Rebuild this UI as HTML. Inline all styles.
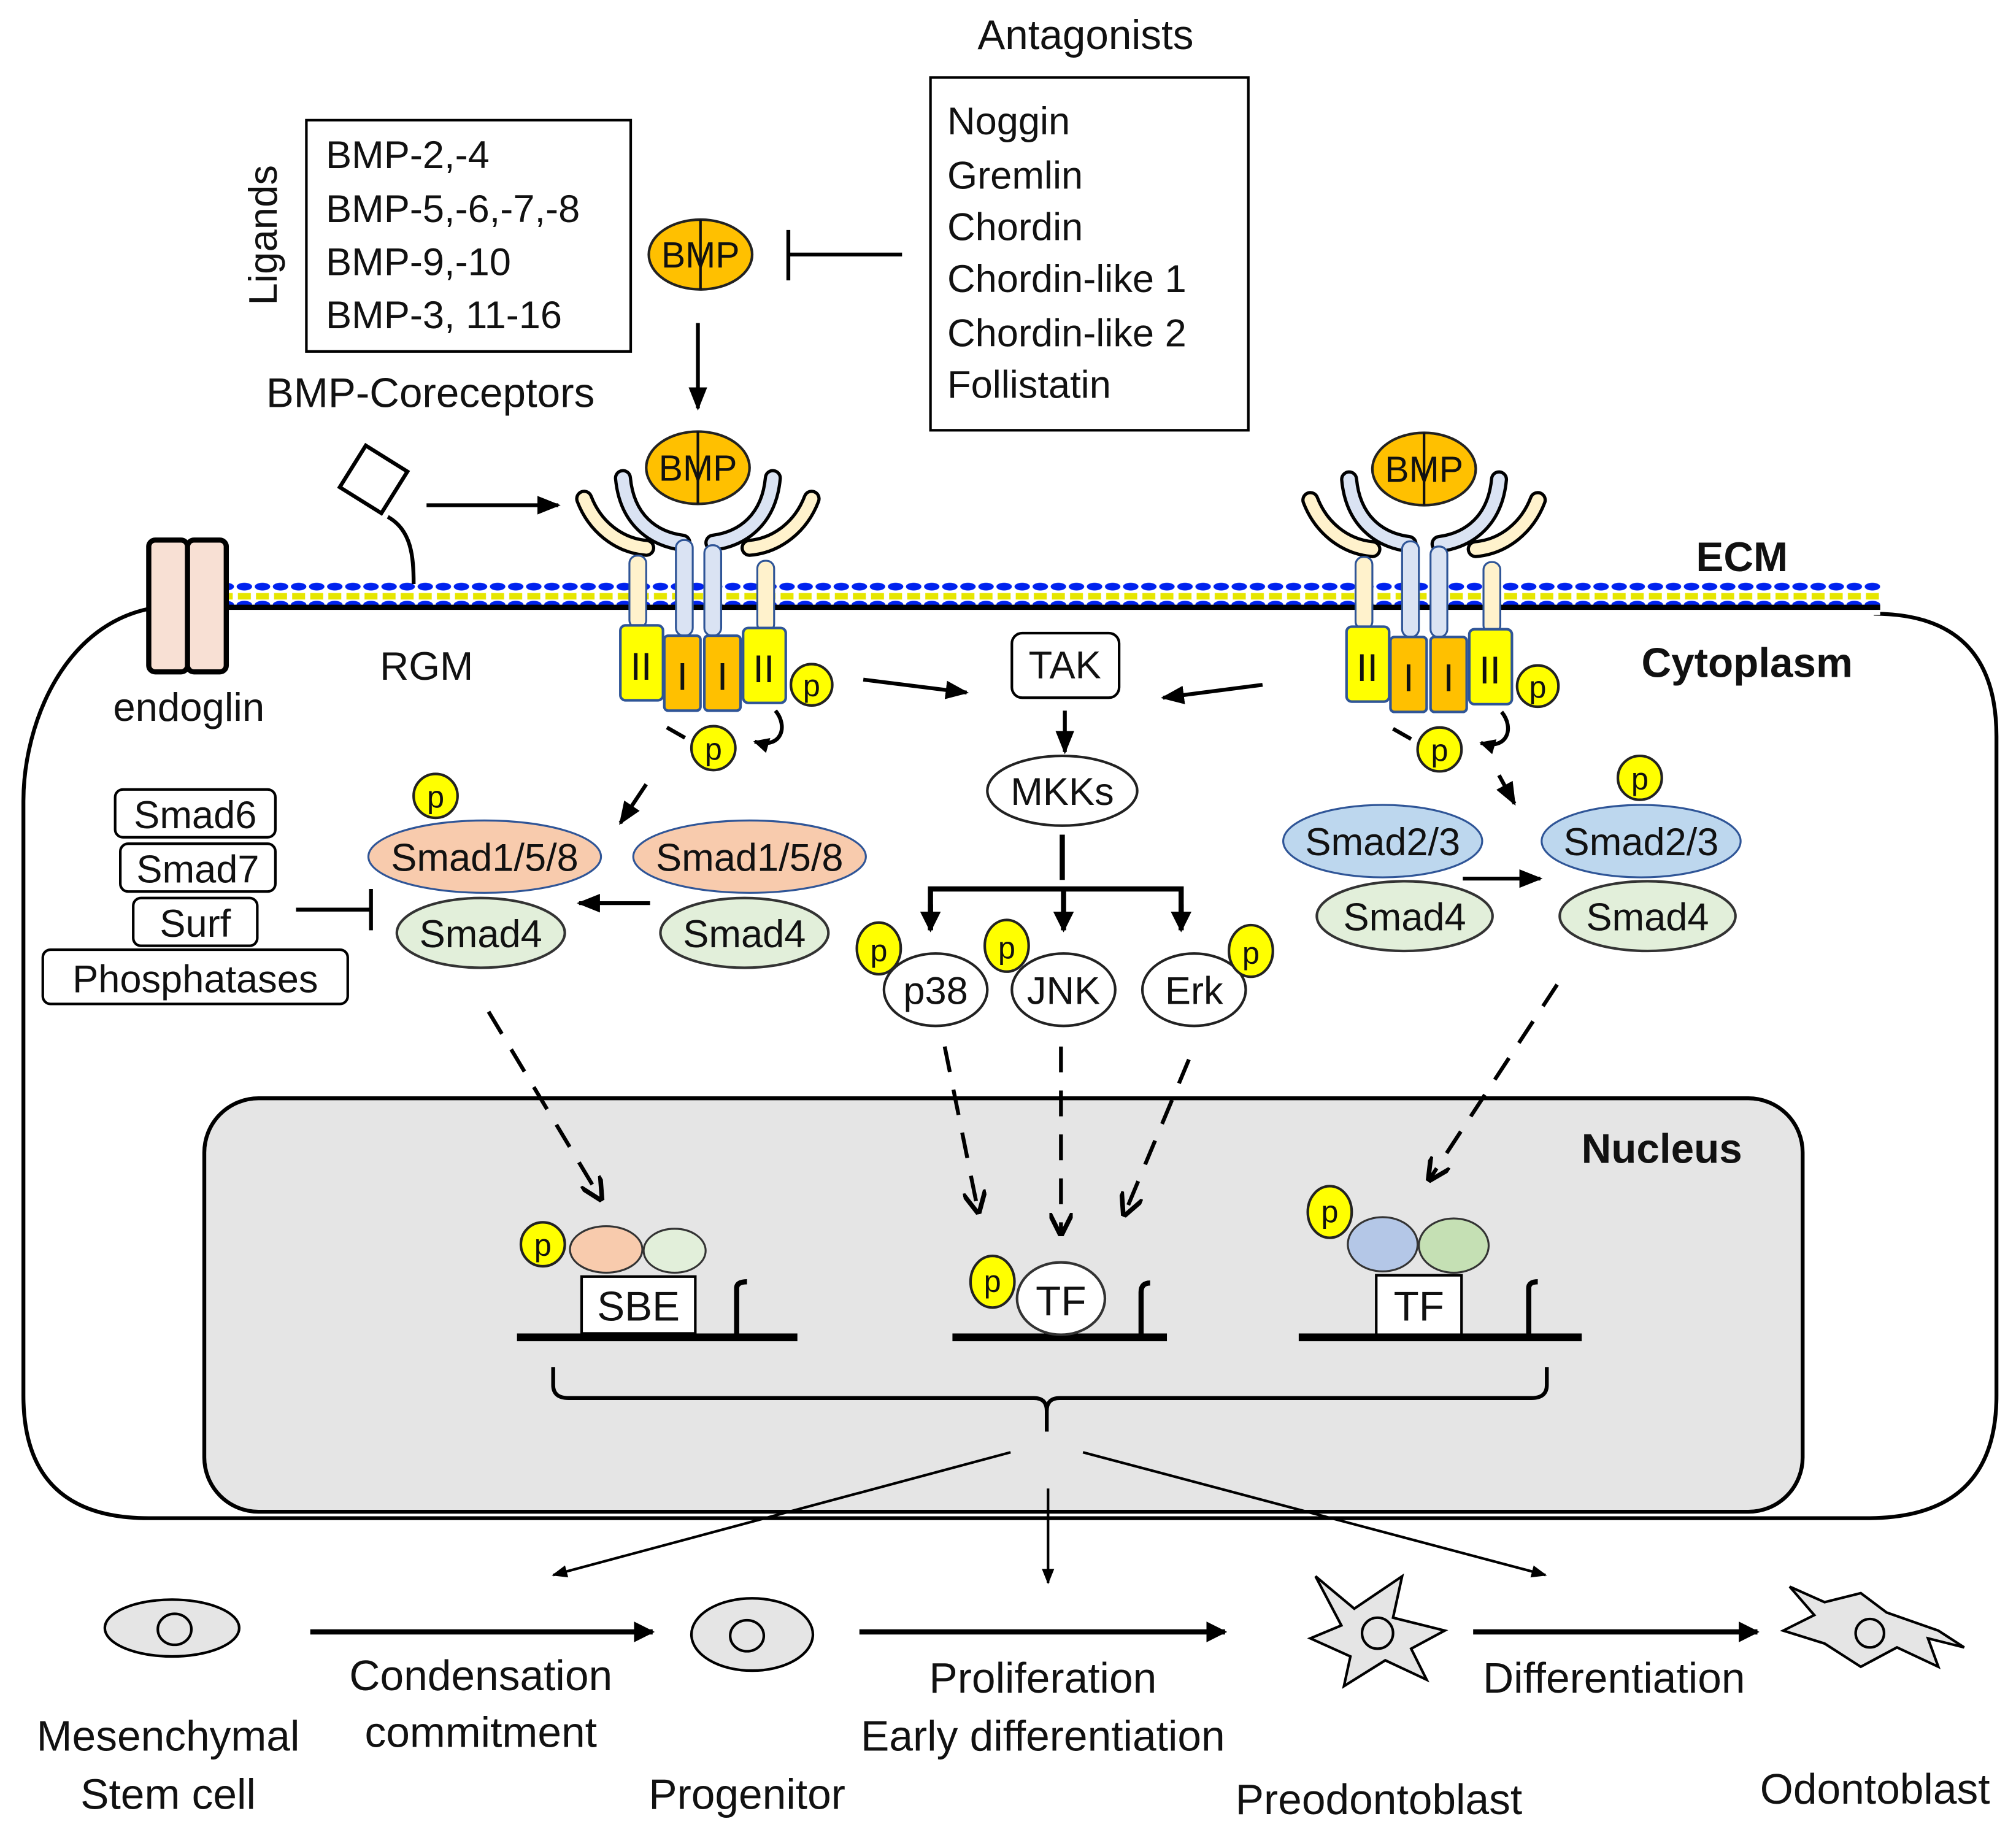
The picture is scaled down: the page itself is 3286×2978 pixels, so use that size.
<!DOCTYPE html>
<html><head><meta charset="utf-8"><style>
html,body{margin:0;padding:0;background:#fff}
svg{display:block}
text{font-family:"Liberation Sans",Arial,sans-serif;fill:#111}
</style></head><body>
<svg width="3286" height="2978" viewBox="0 0 1560 1414" xmlns="http://www.w3.org/2000/svg">
<defs>
<marker id="ah" viewBox="0 0 10 10" refX="9" refY="5" markerWidth="4" markerHeight="4" orient="auto"><path d="M0,0 L10,5 L0,10 z" fill="#000"/></marker>
<marker id="ah2" viewBox="0 0 10 10" refX="9" refY="5" markerWidth="6" markerHeight="6" orient="auto"><path d="M0,1 L10,5 L0,9 z" fill="#000"/></marker>
<marker id="av" viewBox="0 0 10 10" refX="9" refY="5" markerWidth="6" markerHeight="6" orient="auto"><path d="M0,0 L10,5 L0,10" fill="none" stroke="#000" stroke-width="2"/></marker>
<pattern id="memb" width="14" height="30" patternUnits="userSpaceOnUse">
<rect width="14" height="30" fill="#fff"/>
<ellipse cx="7" cy="4" rx="6" ry="3" fill="#0022ee"/>
<rect x="2" y="9" width="10" height="5" fill="#e6e600"/>
<ellipse cx="7" cy="18" rx="6" ry="3" fill="#0022ee"/>
<rect x="0" y="18" width="14" height="4" fill="#000"/>
</pattern>
<g id="rec">
<!-- beige arms -->
<path d="M-40,62 C-62,60 -80,45 -88,24" stroke="#000" stroke-width="14" fill="none" stroke-linecap="round"/>
<path d="M-40,62 C-62,60 -80,45 -88,24" stroke="#fff2cc" stroke-width="9" fill="none" stroke-linecap="round"/>
<path d="M40,62 C62,60 80,45 88,24" stroke="#000" stroke-width="14" fill="none" stroke-linecap="round"/>
<path d="M40,62 C62,60 80,45 88,24" stroke="#fff2cc" stroke-width="9" fill="none" stroke-linecap="round"/>
<!-- blue arms -->
<path d="M-12,58 C-35,55 -55,40 -58,8" stroke="#000" stroke-width="14" fill="none" stroke-linecap="round"/>
<path d="M-12,58 C-35,55 -55,40 -58,8" stroke="#dae3f3" stroke-width="9" fill="none" stroke-linecap="round"/>
<path d="M12,58 C35,55 55,40 58,8" stroke="#000" stroke-width="14" fill="none" stroke-linecap="round"/>
<path d="M12,58 C35,55 55,40 58,8" stroke="#dae3f3" stroke-width="9" fill="none" stroke-linecap="round"/>
<!-- stalks -->
<rect x="-53" y="68" width="13" height="56" rx="6" fill="#fff2cc" stroke="#2f5597" stroke-width="1.5"/>
<rect x="-17" y="56" width="13" height="74" rx="6" fill="#dae3f3" stroke="#2f5597" stroke-width="1.5"/>
<rect x="5" y="60" width="13" height="70" rx="6" fill="#dae3f3" stroke="#2f5597" stroke-width="1.5"/>
<rect x="46" y="72" width="13" height="55" rx="6" fill="#fff2cc" stroke="#2f5597" stroke-width="1.5"/>
<!-- BMP -->
<ellipse cx="0" cy="0" rx="40" ry="28" fill="#ffc000" stroke="#222" stroke-width="2"/>
<line x1="0" y1="-28" x2="0" y2="28" stroke="#111" stroke-width="2"/>
<text x="0" y="10" font-size="28" text-anchor="middle">BMP</text>
<!-- kinase boxes -->
<rect x="-60" y="122" width="33" height="58" rx="4" fill="#ffff00" stroke="#2f5597" stroke-width="2"/>
<rect x="-26" y="130" width="28" height="58" rx="3" fill="#ffc000" stroke="#2f5597" stroke-width="2"/>
<rect x="5" y="130" width="28" height="58" rx="3" fill="#ffc000" stroke="#2f5597" stroke-width="2"/>
<rect x="35" y="124" width="33" height="58" rx="4" fill="#ffff00" stroke="#2f5597" stroke-width="2"/>
<text x="-44" y="164" font-size="30" text-anchor="middle">II</text>
<text x="-12" y="172" font-size="30" text-anchor="middle">I</text>
<text x="19" y="172" font-size="30" text-anchor="middle">I</text>
<text x="51" y="166" font-size="30" text-anchor="middle">II</text>
<!-- p's -->
<circle cx="88" cy="168" r="16" fill="#ffff00" stroke="#222" stroke-width="2"/>
<text x="88" y="177" font-size="24" text-anchor="middle">p</text>
<circle cx="12" cy="217" r="17" fill="#ffff00" stroke="#222" stroke-width="2"/>
<text x="12" y="226" font-size="24" text-anchor="middle">p</text>
<line x1="-24" y1="201" x2="-10" y2="209" stroke="#000" stroke-width="3"/>
<path d="M60,188 C70,200 65,218 44,212" stroke="#000" stroke-width="3" fill="none" marker-end="url(#ah)"/>
</g>
</defs>

<!-- cell -->
<path d="M122,470 C50,480 18,560 18,620 L18,1080 Q18,1175 115,1175 L1445,1175 Q1545,1175 1545,1080 L1545,570 Q1545,475 1450,475" fill="none" stroke="#000" stroke-width="3"/>
<!-- nucleus -->
<rect x="158" y="850" width="1237" height="320" rx="42" fill="#e5e5e5" stroke="#000" stroke-width="3"/>
<!-- membrane -->
<rect x="177" y="450" width="1278" height="26" fill="url(#memb)"/>

<!-- endoglin -->
<rect x="115" y="418" width="30" height="102" rx="5" fill="#f8e0d4" stroke="#000" stroke-width="4"/>
<rect x="145" y="418" width="30" height="102" rx="5" fill="#f8e0d4" stroke="#000" stroke-width="4"/>
<text x="146" y="558" font-size="31" text-anchor="middle">endoglin</text>

<!-- RGM -->
<rect x="270" y="352" width="38" height="38" fill="#fff" stroke="#000" stroke-width="3" transform="rotate(32 289 371)"/>
<path d="M300,400 C318,410 320,430 320,452" stroke="#000" stroke-width="3" fill="none"/>
<text x="330" y="526" font-size="31" text-anchor="middle" fill="#333">RGM</text>
<line x1="330" y1="391" x2="432" y2="391" stroke="#000" stroke-width="3" marker-end="url(#ah2)"/>
<text x="333" y="315" font-size="32" text-anchor="middle" fill="#222">BMP-Coreceptors</text>

<!-- Ligands -->
<text transform="translate(214,182) rotate(-90)" font-size="31" text-anchor="middle" fill="#333">Ligands</text>
<rect x="237" y="93" width="251" height="179" fill="#fff" stroke="#000" stroke-width="2"/>
<text x="252" y="130" font-size="30">BMP-2,-4</text>
<text x="252" y="172" font-size="30">BMP-5,-6,-7,-8</text>
<text x="252" y="213" font-size="30">BMP-9,-10</text>
<text x="252" y="254" font-size="30">BMP-3, 11-16</text>

<!-- free BMP -->
<ellipse cx="542" cy="197" rx="40" ry="27" fill="#ffc000" stroke="#222" stroke-width="2"/>
<line x1="542" y1="170" x2="542" y2="224" stroke="#111" stroke-width="2"/>
<text x="542" y="207" font-size="28" text-anchor="middle">BMP</text>
<line x1="698" y1="197" x2="610" y2="197" stroke="#000" stroke-width="3"/>
<line x1="610" y1="178" x2="610" y2="217" stroke="#000" stroke-width="3"/>
<line x1="540" y1="250" x2="540" y2="316" stroke="#000" stroke-width="3" marker-end="url(#ah2)"/>

<!-- Antagonists -->
<text x="840" y="38" font-size="32" text-anchor="middle" fill="#222">Antagonists</text>
<rect x="720" y="60" width="246" height="273" fill="#fff" stroke="#000" stroke-width="2"/>
<text x="733" y="104" font-size="30">Noggin</text>
<text x="733" y="146" font-size="30">Gremlin</text>
<text x="733" y="186" font-size="30">Chordin</text>
<text x="733" y="226" font-size="30">Chordin-like 1</text>
<text x="733" y="268" font-size="30">Chordin-like 2</text>
<text x="733" y="308" font-size="30">Follistatin</text>

<!-- receptors -->
<use href="#rec" x="540" y="362"/>
<use href="#rec" x="1102" y="363"/>

<text x="1348" y="442" font-size="32" font-weight="bold" text-anchor="middle">ECM</text>
<text x="1352" y="524" font-size="32" font-weight="bold" text-anchor="middle">Cytoplasm</text>
<text x="1286" y="900" font-size="32" font-weight="bold" text-anchor="middle">Nucleus</text>

<!-- TAK pathway -->
<line x1="668" y1="526" x2="748" y2="536" stroke="#000" stroke-width="3" marker-end="url(#ah2)"/>
<line x1="977" y1="530" x2="900" y2="540" stroke="#000" stroke-width="3" marker-end="url(#ah2)"/>
<rect x="783" y="490" width="83" height="50" rx="8" fill="#fff" stroke="#000" stroke-width="2"/>
<text x="824" y="525" font-size="30" text-anchor="middle">TAK</text>
<line x1="824" y1="550" x2="824" y2="582" stroke="#000" stroke-width="3" marker-end="url(#ah2)"/>
<ellipse cx="822" cy="612" rx="58" ry="27" fill="#fff" stroke="#222" stroke-width="2"/>
<text x="822" y="623" font-size="30" text-anchor="middle">MKKs</text>
<line x1="822" y1="646" x2="822" y2="681" stroke="#000" stroke-width="4"/>
<path d="M720,719 V688 H914 V719" stroke="#000" stroke-width="4" fill="none"/>
<line x1="720" y1="700" x2="720" y2="720" stroke="#000" stroke-width="4" marker-end="url(#ah)"/>
<line x1="823" y1="688" x2="823" y2="720" stroke="#000" stroke-width="4" marker-end="url(#ah)"/>
<line x1="914" y1="700" x2="914" y2="720" stroke="#000" stroke-width="4" marker-end="url(#ah)"/>
<ellipse cx="724" cy="766" rx="40" ry="28" fill="#fff" stroke="#222" stroke-width="2"/>
<text x="724" y="777" font-size="30" text-anchor="middle">p38</text>
<ellipse cx="823" cy="766" rx="40" ry="28" fill="#fff" stroke="#222" stroke-width="2"/>
<text x="823" y="777" font-size="30" text-anchor="middle">JNK</text>
<ellipse cx="924" cy="766" rx="40" ry="28" fill="#fff" stroke="#222" stroke-width="2"/>
<text x="924" y="777" font-size="30" text-anchor="middle">Erk</text>
<g fill="#ffff00" stroke="#222" stroke-width="2">
<ellipse cx="680" cy="734" rx="17" ry="20"/><ellipse cx="779" cy="732" rx="17" ry="20"/><ellipse cx="968" cy="736" rx="17" ry="20"/>
</g>
<text x="680" y="744" font-size="24" text-anchor="middle">p</text>
<text x="779" y="742" font-size="24" text-anchor="middle">p</text>
<text x="968" y="746" font-size="24" text-anchor="middle">p</text>

<!-- left smads -->
<line x1="500" y1="607" x2="480" y2="637" stroke="#000" stroke-width="3" marker-end="url(#ah2)"/>
<ellipse cx="372" cy="722" rx="65" ry="27" fill="#e2efda" stroke="#333" stroke-width="2"/>
<text x="372" y="733" font-size="30" text-anchor="middle">Smad4</text>
<ellipse cx="375" cy="663" rx="90" ry="28" fill="#f8cbad" stroke="#2f5597" stroke-width="1.5"/>
<text x="375" y="674" font-size="30" text-anchor="middle">Smad1/5/8</text>
<circle cx="337" cy="616" r="17" fill="#ffff00" stroke="#222" stroke-width="2"/>
<text x="337" y="625" font-size="24" text-anchor="middle">p</text>
<ellipse cx="576" cy="722" rx="65" ry="27" fill="#e2efda" stroke="#333" stroke-width="2"/>
<text x="576" y="733" font-size="30" text-anchor="middle">Smad4</text>
<ellipse cx="580" cy="663" rx="90" ry="28" fill="#f8cbad" stroke="#2f5597" stroke-width="1.5"/>
<text x="580" y="674" font-size="30" text-anchor="middle">Smad1/5/8</text>
<line x1="503" y1="699" x2="448" y2="699" stroke="#000" stroke-width="3" marker-end="url(#ah2)"/>

<!-- inhibitors -->
<g fill="#fff" stroke="#000" stroke-width="2">
<rect x="89" y="611" width="124" height="37" rx="6"/>
<rect x="93" y="653" width="120" height="37" rx="6"/>
<rect x="103" y="695" width="96" height="37" rx="6"/>
<rect x="33" y="735" width="236" height="42" rx="6"/>
</g>
<text x="151" y="641" font-size="30" text-anchor="middle">Smad6</text>
<text x="153" y="683" font-size="30" text-anchor="middle">Smad7</text>
<text x="151" y="725" font-size="30" text-anchor="middle">Surf</text>
<text x="151" y="768" font-size="30" text-anchor="middle">Phosphatases</text>
<line x1="229" y1="704" x2="286" y2="704" stroke="#000" stroke-width="3"/>
<line x1="287" y1="688" x2="287" y2="720" stroke="#000" stroke-width="3"/>

<!-- right smads -->
<line x1="1160" y1="600" x2="1172" y2="622" stroke="#000" stroke-width="3" marker-end="url(#ah2)"/>
<ellipse cx="1087" cy="709" rx="68" ry="27" fill="#e2efda" stroke="#333" stroke-width="2"/>
<text x="1087" y="720" font-size="30" text-anchor="middle">Smad4</text>
<ellipse cx="1070" cy="651" rx="77" ry="28" fill="#bdd7ee" stroke="#2f5597" stroke-width="1.5"/>
<text x="1070" y="662" font-size="30" text-anchor="middle">Smad2/3</text>
<ellipse cx="1275" cy="709" rx="68" ry="27" fill="#e2efda" stroke="#333" stroke-width="2"/>
<text x="1275" y="720" font-size="30" text-anchor="middle">Smad4</text>
<ellipse cx="1270" cy="651" rx="77" ry="28" fill="#bdd7ee" stroke="#2f5597" stroke-width="1.5"/>
<text x="1270" y="662" font-size="30" text-anchor="middle">Smad2/3</text>
<circle cx="1269" cy="602" r="17" fill="#ffff00" stroke="#222" stroke-width="2"/>
<text x="1269" y="611" font-size="24" text-anchor="middle">p</text>
<line x1="1132" y1="680" x2="1192" y2="680" stroke="#000" stroke-width="3" marker-end="url(#ah2)"/>

<!-- dashed arrows -->
<g stroke="#000" stroke-width="3" stroke-dasharray="20,14" fill="none" marker-end="url(#av)">
<line x1="378" y1="783" x2="465" y2="928"/>
<line x1="731" y1="810" x2="757" y2="938"/>
<line x1="821" y1="810" x2="821" y2="955"/>
<line x1="920" y1="820" x2="870" y2="940"/>
<line x1="1205" y1="762" x2="1106" y2="913"/>
</g>

<!-- nucleus contents -->
<line x1="400" y1="1035" x2="617" y2="1035" stroke="#000" stroke-width="6"/>
<rect x="450" y="988" width="88" height="44" fill="#fff" stroke="#000" stroke-width="2"/>
<text x="494" y="1022" font-size="32" text-anchor="middle">SBE</text>
<ellipse cx="469" cy="967" rx="28" ry="18" fill="#f8cbad" stroke="#333" stroke-width="1.5"/>
<ellipse cx="522" cy="968" rx="24" ry="17" fill="#e2efda" stroke="#333" stroke-width="1.5"/>
<circle cx="420" cy="963" r="17" fill="#ffff00" stroke="#222" stroke-width="2"/>
<text x="420" y="972" font-size="24" text-anchor="middle">p</text>
<path d="M570,1035 V997 Q570,992 578,992" stroke="#000" stroke-width="4" fill="none"/>

<line x1="737" y1="1035" x2="903" y2="1035" stroke="#000" stroke-width="6"/>
<ellipse cx="821" cy="1005" rx="34" ry="28" fill="#fff" stroke="#333" stroke-width="2"/>
<text x="821" y="1018" font-size="32" text-anchor="middle">TF</text>
<ellipse cx="768" cy="992" rx="17" ry="20" fill="#ffff00" stroke="#222" stroke-width="2"/>
<text x="768" y="1000" font-size="24" text-anchor="middle">p</text>
<path d="M883,1035 V1000 Q883,993 890,993" stroke="#000" stroke-width="4" fill="none"/>

<line x1="1005" y1="1035" x2="1224" y2="1035" stroke="#000" stroke-width="6"/>
<rect x="1065" y="987" width="66" height="46" fill="#fff" stroke="#000" stroke-width="2"/>
<text x="1098" y="1022" font-size="32" text-anchor="middle">TF</text>
<ellipse cx="1070" cy="963" rx="27" ry="21" fill="#b4c7e7" stroke="#333" stroke-width="1.5"/>
<ellipse cx="1125" cy="964" rx="27" ry="21" fill="#c5e0b4" stroke="#333" stroke-width="1.5"/>
<ellipse cx="1029" cy="938" rx="17" ry="20" fill="#ffff00" stroke="#222" stroke-width="2"/>
<text x="1029" y="946" font-size="24" text-anchor="middle">p</text>
<path d="M1183,1035 V997 Q1183,992 1190,992" stroke="#000" stroke-width="4" fill="none"/>

<!-- brace -->
<path d="M428,1058 V1072 Q428,1082 440,1082 H800 Q810,1082 810,1092 V1108 M810,1092 Q810,1082 820,1082 H1185 Q1197,1082 1197,1072 V1058" stroke="#000" stroke-width="3" fill="none"/>

<!-- output arrows -->
<line x1="782" y1="1124" x2="428" y2="1219" stroke="#000" stroke-width="2" marker-end="url(#ah2)"/>
<line x1="811" y1="1152" x2="811" y2="1225" stroke="#000" stroke-width="2" marker-end="url(#ah2)"/>
<line x1="838" y1="1124" x2="1196" y2="1219" stroke="#000" stroke-width="2" marker-end="url(#ah2)"/>

<!-- cells -->
<ellipse cx="133" cy="1260" rx="52" ry="22" fill="#e5e5e5" stroke="#000" stroke-width="2"/>
<ellipse cx="135" cy="1261" rx="13" ry="12" fill="#e5e5e5" stroke="#000" stroke-width="2"/>
<ellipse cx="582" cy="1265" rx="47" ry="28" fill="#e5e5e5" stroke="#000" stroke-width="2"/>
<ellipse cx="578" cy="1266" rx="13" ry="12" fill="#e5e5e5" stroke="#000" stroke-width="2"/>
<path d="M1018,1220 L1048,1245 L1085,1220 L1078,1252 L1118,1262 L1092,1276 L1104,1300 L1072,1285 L1040,1305 L1045,1282 L1014,1268 L1038,1258 Z" fill="#e5e5e5" stroke="#000" stroke-width="2"/>
<circle cx="1066" cy="1264" r="12" fill="#e5e5e5" stroke="#000" stroke-width="2"/>
<path d="M1385,1228 L1412,1240 L1440,1233 L1460,1248 L1500,1262 L1520,1275 L1492,1268 L1500,1290 L1468,1275 L1440,1290 L1412,1272 L1380,1262 L1404,1250 Z" fill="#e5e5e5" stroke="#000" stroke-width="2"/>
<circle cx="1447" cy="1264" r="11" fill="#e5e5e5" stroke="#000" stroke-width="2"/>

<line x1="240" y1="1263" x2="505" y2="1263" stroke="#000" stroke-width="4" marker-end="url(#ah)"/>
<line x1="665" y1="1263" x2="948" y2="1263" stroke="#000" stroke-width="4" marker-end="url(#ah)"/>
<line x1="1140" y1="1263" x2="1360" y2="1263" stroke="#000" stroke-width="4" marker-end="url(#ah)"/>

<g font-size="33" fill="#222">
<text x="130" y="1355" text-anchor="middle">Mesenchymal</text>
<text x="130" y="1400" text-anchor="middle">Stem cell</text>
<text x="372" y="1308" text-anchor="middle">Condensation</text>
<text x="372" y="1352" text-anchor="middle">commitment</text>
<text x="578" y="1400" text-anchor="middle">Progenitor</text>
<text x="807" y="1310" text-anchor="middle">Proliferation</text>
<text x="807" y="1355" text-anchor="middle">Early differentiation</text>
<text x="1067" y="1404" text-anchor="middle">Preodontoblast</text>
<text x="1249" y="1310" text-anchor="middle">Differentiation</text>
<text x="1451" y="1396" text-anchor="middle">Odontoblast</text>
</g>
</svg>
</body></html>
